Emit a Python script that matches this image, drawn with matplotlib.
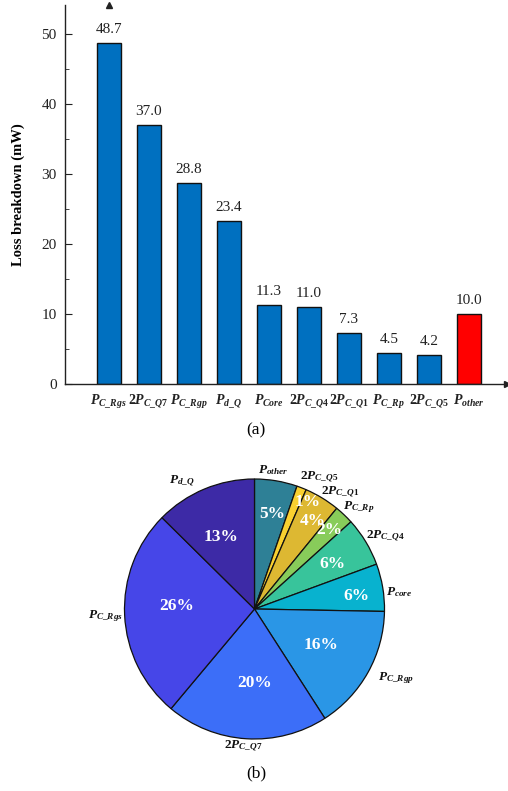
import numpy as np
import matplotlib
matplotlib.use("Agg")
import matplotlib.pyplot as plt

# ---- data -------------------------------------------------------------
bar_labels = [r"$P_{C\_Rgs}$", r"$2P_{C\_Q7}$", r"$P_{C\_Rgp}$", r"$P_{d\_Q}$",
              r"$P_{Core}$", r"$2P_{C\_Q4}$", r"$2P_{C\_Q1}$", r"$P_{C\_Rp}$",
              r"$2P_{C\_Q5}$", r"$P_{other}$"]
bar_values = [48.7, 37.0, 28.8, 23.4, 11.3, 11.0, 7.3, 4.5, 4.2, 10.0]

# pie slices, clockwise from 12 o'clock (percent of total loss)
pie_labels = [r"$P_{other}$", r"$2P_{C\_Q5}$", r"$2P_{C\_Q1}$", r"$P_{C\_Rp}$",
              r"$2P_{C\_Q4}$", r"$P_{core}$", r"$P_{C\_Rgp}$", r"$2P_{C\_Q7}$",
              r"$P_{C\_Rgs}$", r"$P_{d\_Q}$"]
pie_share = [5.3, 1.2, 4.4, 2.4, 6.1, 5.9, 15.6, 20.2, 26.3, 12.6]
pie_pct_text = ["5%", "1%", "4%", "2%", "6%", "6%", "16%", "20%", "26%", "13%"]

# ---- style ------------------------------------------------------------
plt.rcParams["font.family"] = ["Liberation Serif", "DejaVu Serif"]
plt.rcParams["mathtext.fontset"] = "custom"
plt.rcParams["mathtext.it"] = "Liberation Serif:italic:bold"
plt.rcParams["mathtext.rm"] = "Liberation Serif:bold"
plt.rcParams["mathtext.bf"] = "Liberation Serif:bold"
plt.rcParams["mathtext.default"] = "it"

W, H = 508, 791
fig = plt.figure(figsize=(W / 100, H / 100), dpi=100)

def px_axes(left, top, right, bottom):
    return fig.add_axes([left / W, 1 - bottom / H, (right - left) / W, (bottom - top) / H])

# ---- (a) bar chart ----------------------------------------------------
ax = px_axes(65, 5, 507, 384.3)
x = np.arange(len(bar_values))
colors = ["#0070C0"] * (len(bar_values) - 1) + ["#FF0000"]
ax.bar(x, bar_values, width=0.6, color=colors, edgecolor="#111111", linewidth=1.0, zorder=2)
for xi, v in zip(x, bar_values):
    ax.text(xi, v + 1.0, f"{v:.1f}", ha="center", va="bottom", fontsize=11, color="#222222")

ax.set_xlim(-1.09, 9.95)
ax.set_ylim(0, 54.2)
ax.set_yticks([0, 10, 20, 30, 40, 50])
ax.set_yticks([5, 15, 25, 35, 45], minor=True)
ax.set_xticks(x)
ax.set_xticklabels(bar_labels, fontsize=10)
ax.tick_params(axis="both", which="both", direction="in", colors="#222222")
ax.tick_params(axis="y", which="major", length=5, labelsize=11, pad=6)
ax.tick_params(axis="y", which="minor", length=3)
ax.tick_params(axis="x", length=4, pad=6)
for s in ("top", "right"):
    ax.spines[s].set_visible(False)
for s in ("left", "bottom"):
    ax.spines[s].set_color("#222222")
    ax.spines[s].set_linewidth(1.0)
ax.plot(1, 0, ">", color="#222222", markersize=4, transform=ax.get_yaxis_transform(), clip_on=False)
ax.plot(0, 1, "^", color="#222222", markersize=4, transform=ax.get_xaxis_transform(), clip_on=False)

fig.text(18 / W, 1 - 195 / H, "Loss breakdown (mW)", rotation=90, ha="center", va="center",
         fontsize=10.5, fontweight="bold")
fig.text(256 / W, 1 - 430 / H, "(a)", ha="center", va="center", fontsize=12.5)

# ---- (b) pie chart ----------------------------------------------------
cx, cy, R = 254.5, 609, 130
pax = px_axes(cx - R, cy - R, cx + R, cy + R)
pie_colors = ["#2E8096", "#F9D030", "#DDB832", "#88CC5A", "#38C49B",
              "#08B2CF", "#2A96E6", "#3C6EF8", "#4646E8", "#3D2AA6"]
wedges, _ = pax.pie(pie_share, colors=pie_colors, startangle=90, counterclock=False,
                    radius=1.0, wedgeprops=dict(edgecolor="#111111", linewidth=0.9))
pax.set_xlim(-1, 1)
pax.set_ylim(-1, 1)
pax.set_aspect("equal")
pax.axis("off")

pct_dist = [0.74, 0.92, 0.81, 0.84, 0.69, 0.79, 0.58, 0.57, 0.60, 0.61]
pct_shift = [-1, -5, -2, 0, -1, -2, 1, 4, -5, 2]
lab_dist = [1.08, 1.13, 1.11, 1.12, 1.15, 1.12, 1.21, 1.06, 1.15, 1.13]
lab_shift = [2, -5, -5, -2, -2, -3, 3, -1, 0, 7]
for w, t, lab, pd, ps, ld, ls in zip(wedges, pie_pct_text, pie_labels,
                                     pct_dist, pct_shift, lab_dist, lab_shift):
    mid = np.deg2rad((w.theta1 + w.theta2) / 2 + ps)
    pax.text(pd * np.cos(mid), pd * np.sin(mid), t, ha="center", va="center",
             color="white", fontsize=12.5, fontweight="bold")
    mid = np.deg2rad((w.theta1 + w.theta2) / 2 + ls)
    pax.text(ld * np.cos(mid), ld * np.sin(mid), lab, ha="center", va="center",
             fontsize=9.5, color="#111111")

fig.text(256 / W, 1 - 773 / H, "(b)", ha="center", va="center", fontsize=12.5)

fig.savefig("out.png", dpi=100)
